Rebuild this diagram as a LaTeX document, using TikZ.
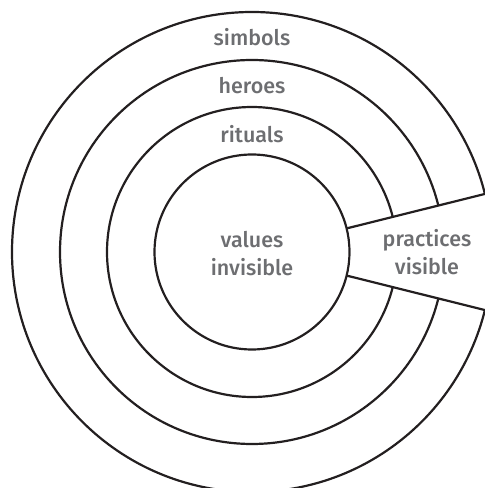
\documentclass[tikz,border=0pt]{standalone}
\usepackage{fontspec}
\setmainfont{Fira Sans Medium}
\usetikzlibrary{calc}
\definecolor{txt}{HTML}{6D6E71}
\definecolor{ink}{HTML}{231F20}
\begin{document}
\begin{tikzpicture}[x=1pt,y=1pt,
  ring/.style={draw=ink, line width=2.2pt},
  lbl/.style={text=txt, font=\fontsize{21.5}{28}\selectfont, align=center, inner sep=0pt}]
\useasboundingbox (0,0) rectangle (485,488);
\clip (0,0) rectangle (485,488);
\coordinate (c) at (252,236);
\foreach \r in {240,192,145,97.5} \draw[ring] (c) circle (\r);
% wedge opening
\coordinate (wa) at ($(c)+(14:97.5)$);
\coordinate (wb) at ($(c)+(14:240)$);
\coordinate (wc) at ($(c)+(-14:97.5)$);
\coordinate (wd) at ($(c)+(-14:240)$);
\fill[white] ($(c)+(-14:99)$) arc[start angle=-14, end angle=14, radius=99]
  -- ($(c)+(14:260)$) -- ($(c)+(-14:260)$) -- cycle;
\draw[ring] (wa) -- (wb);
\draw[ring] (wc) -- (wd);
% labels
\node[lbl] (simbols) at (252,451) {simbols};
\node[lbl] (heroes) at (252,402) {heroes};
\node[lbl] (rituals) at (252,354) {rituals};
\node[lbl] (values) at (252,234) {values\\invisible};
\node[lbl] (practices) at (427,236) {practices\\visible};
\end{tikzpicture}
\end{document}
